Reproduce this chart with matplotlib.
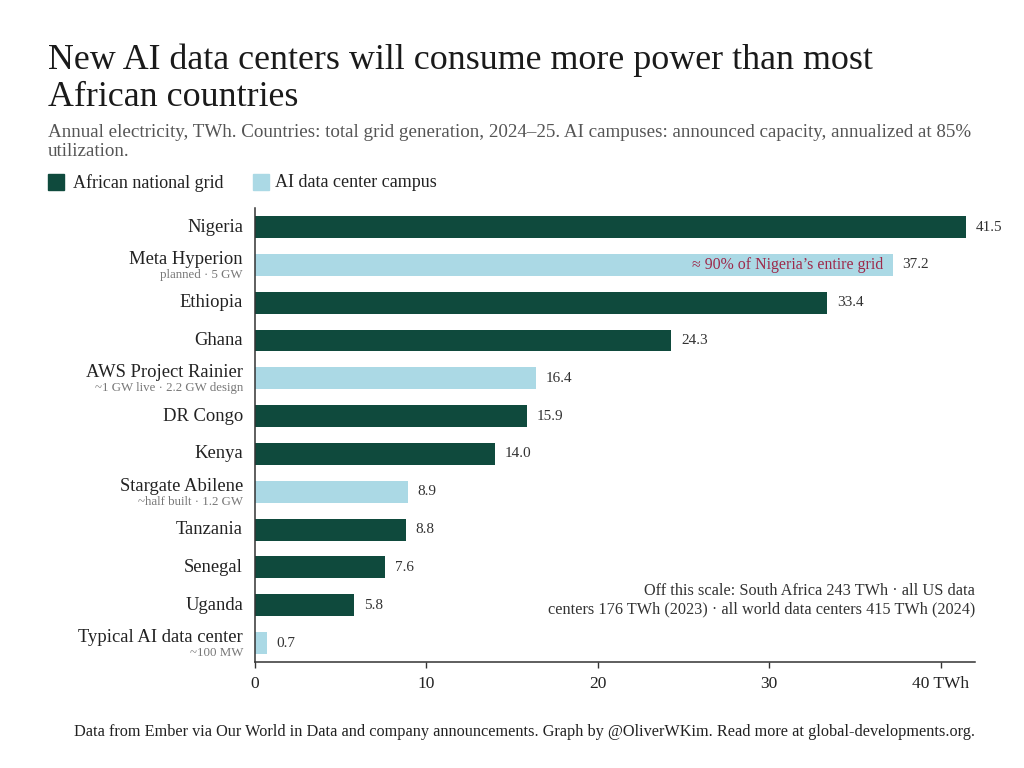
#!/usr/bin/env python3
import matplotlib; matplotlib.use('Agg')
import numpy as np
from matplotlib import pyplot as plt
from matplotlib.patches import Rectangle

plt.rcParams.update({
    'font.family': ['Liberation Serif', 'DejaVu Serif'],
})

GRID = '#0f4a3d'   # dark green
CAMPUS = '#abd9e5'  # light blue
NOTE = '#9e2a4b'    # crimson
TXT = '#222222'
GREY = '#777777'

labels = ['Nigeria', 'Meta Hyperion', 'Ethiopia', 'Ghana', 'AWS Project Rainier',
          'DR Congo', 'Kenya', 'Stargate Abilene', 'Tanzania', 'Senegal',
          'Uganda', 'Typical AI data center']
sublabels = ['', 'planned · 5 GW', '', '', '~1 GW live · 2.2 GW design',
             '', '', '~half built · 1.2 GW', '', '', '', '~100 MW']
values = [41.5, 37.2, 33.4, 24.3, 16.4, 15.9, 14.0, 8.9, 8.8, 7.6, 5.8, 0.7]
kinds = ['grid', 'campus', 'grid', 'grid', 'campus', 'grid', 'grid',
         'campus', 'grid', 'grid', 'grid', 'campus']
xticks = [0, 10, 20, 30, 40]
xticklabels = ['0', '10', '20', '30', '40 TWh']

fig = plt.figure(figsize=(10.24, 7.68), dpi=100)
ax = fig.add_axes([0.249, 0.138, 0.703, 0.591])

y = np.arange(len(labels))
colors = [GRID if k == 'grid' else CAMPUS for k in kinds]
ax.barh(y, values, height=0.58, color=colors)
ax.set_ylim(len(labels) - 0.5, -0.5)
ax.set_xlim(0, 42)

for yi, v in zip(y, values):
    ax.text(v + 0.55, yi, f'{v:.1f}', va='center', ha='left',
            fontsize=11, color='#333333')

# category labels, with a small grey line under the campus names
ax.set_yticks([])
for yi, lab, sub in zip(y, labels, sublabels):
    if sub:
        ax.text(-0.7, yi - 0.03, lab, ha='right', va='baseline', fontsize=13.4,
                color=TXT)
        ax.text(-0.7, yi + 0.34, sub, ha='right', va='baseline', fontsize=9.3,
                color=GREY)
    else:
        ax.text(-0.7, yi, lab, ha='right', va='center', fontsize=13.4, color=TXT)

ax.text(values[1] - 0.55, 1, '\u2248 90% of Nigeria\u2019s entire grid',
        ha='right', va='center', fontsize=11.4, color=NOTE)

ax.text(42, 9.62, 'Off this scale: South Africa 243 TWh · all US data',
        ha='right', va='center', fontsize=11.7, color='#333333')
ax.text(42, 10.12, 'centers 176 TWh (2023) · all world data centers 415 TWh (2024)',
        ha='right', va='center', fontsize=11.7, color='#333333')

ax.set_xticks(xticks)
ax.set_xticklabels(xticklabels, fontsize=12.5, color=TXT)
ax.tick_params(axis='x', length=4, width=1, color='#333333', pad=6)
for s in ['top', 'right']:
    ax.spines[s].set_visible(False)
for s in ['left', 'bottom']:
    ax.spines[s].set_color('#333333')
    ax.spines[s].set_linewidth(1.1)

fig.text(0.047, 0.921, 'New AI data centers will consume more power than most',
         fontsize=25.8, color='#1a1a1a', va='center')
fig.text(0.047, 0.873, 'African countries', fontsize=25.8, color='#1a1a1a',
         va='center')
fig.text(0.047, 0.828, 'Annual electricity, TWh. Countries: total grid generation, '
         '2024\u201325. AI campuses: announced capacity, annualized at 85%',
         fontsize=13.7, color='#555555', va='center')
fig.text(0.047, 0.803, 'utilization.', fontsize=13.7, color='#555555', va='center')

fig.patches.append(Rectangle((0.047, 0.752), 0.0155, 0.021, color=GRID,
                             transform=fig.transFigure, figure=fig))
fig.text(0.071, 0.762, 'African national grid', fontsize=13, color=TXT, va='center')
fig.patches.append(Rectangle((0.247, 0.752), 0.0155, 0.021, color=CAMPUS,
                             transform=fig.transFigure, figure=fig))
fig.text(0.269, 0.762, 'AI data center campus', fontsize=13, color=TXT, va='center')

fig.text(0.512, 0.047, 'Data from Ember via Our World in Data and company '
         'announcements. Graph by @OliverWKim. Read more at global-developments.org.',
         fontsize=11.7, color=TXT, ha='center', va='center')

plt.savefig('out.png', dpi=100, facecolor='white')
plt.close()
